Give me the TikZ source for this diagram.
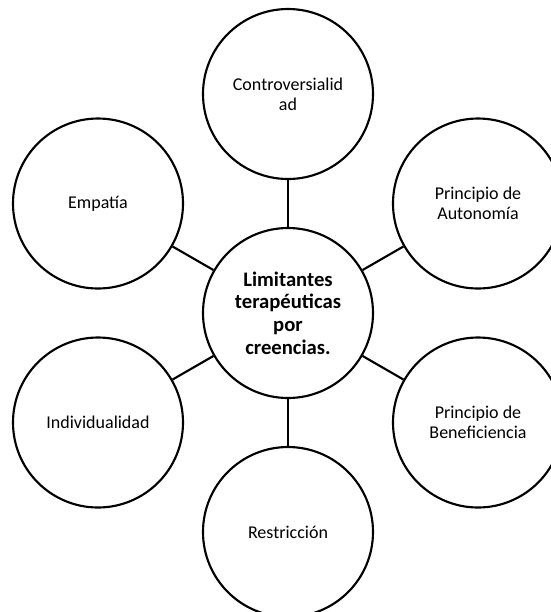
\documentclass[tikz,border=0pt]{standalone}
\usepackage{fontspec}
\setmainfont{Carlito}
\begin{document}
\begin{tikzpicture}[x=0.75pt,y=-0.75pt,
  bubble/.style={circle,draw=black,line width=1.6pt,fill=white,
    minimum size=127.5pt,inner sep=0pt,align=center,
    font=\fontsize{13.5}{15}\selectfont},
  hub/.style={bubble,font=\fontsize{15.5}{17}\selectfont\bfseries},
  link/.style={line width=1.6pt}]
\useasboundingbox (0,0) rectangle (551,612);
\begin{scope}
\clip (0,0) rectangle (551,612);
% central topic
\node[hub] (c) at (288,313) {Limitantes\\terapéuticas\\por\\creencias.};
% surrounding ideas, on a hexagon around the centre
\node[bubble] (top) at (288,94)    {Controversialid\\ad};
\node[bubble] (ru)  at (478,203.5) {Principio de\\Autonomía};
\node[bubble] (rd)  at (478,422.5) {Principio de\\Beneficiencia};
\node[bubble] (bot) at (288,532)   {Restricción};
\node[bubble] (ld)  at (98,422.5)  {Individualidad};
\node[bubble] (lu)  at (98,203.5)  {Empatía};
% connectors
\foreach \n in {top,ru,rd,bot,ld,lu}
  \draw[link] (c) -- (\n);
\end{scope}
\end{tikzpicture}
\end{document}
